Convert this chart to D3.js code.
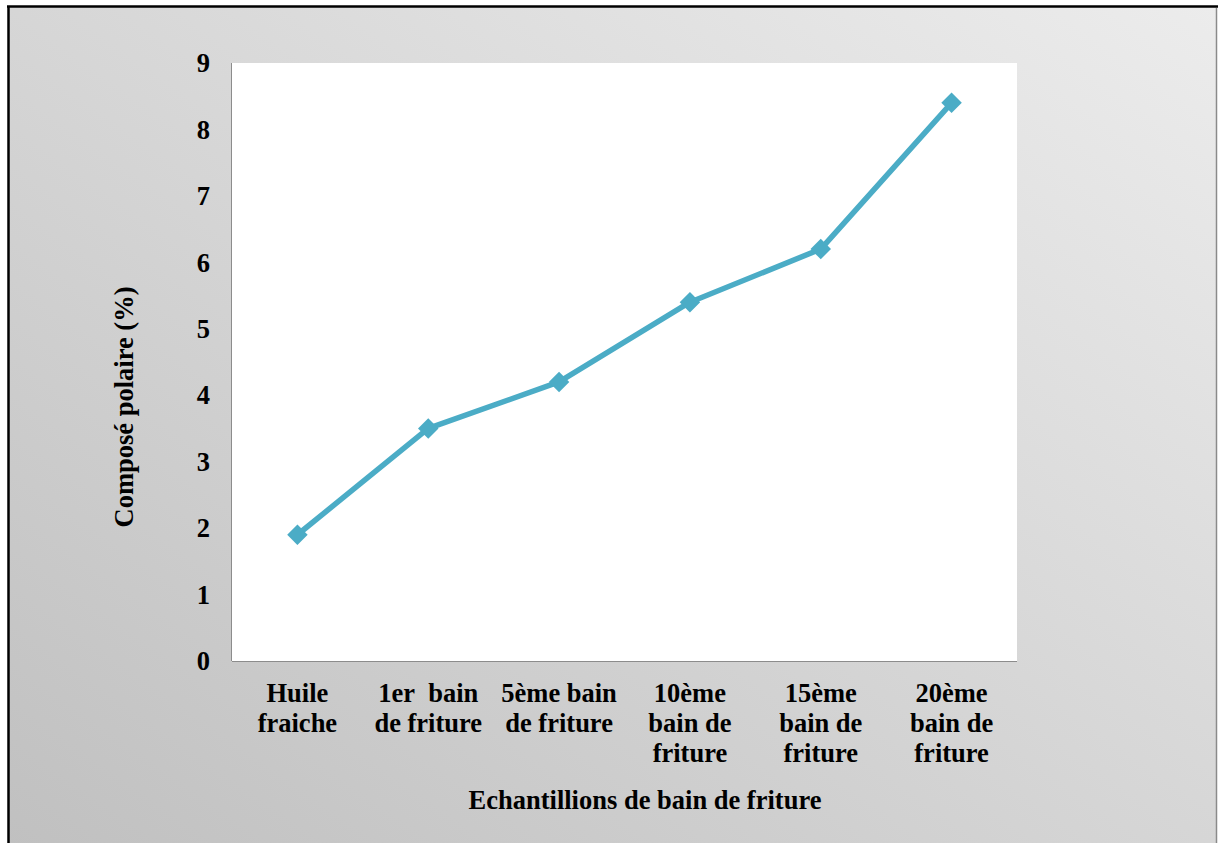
<!DOCTYPE html>
<html>
<head>
<meta charset="utf-8">
<script src="https://cdn.jsdelivr.net/npm/d3@7"></script>
<style>
  html, body { margin: 0; padding: 0; background: #ffffff; }
  svg { display: block; }
  text { font-family: "Liberation Serif", "Times New Roman", serif; font-weight: bold; fill: #000; }
</style>
</head>
<body>
<svg id="chart" width="1218" height="843"></svg>
<script>
// Polar compounds in frying oil by number of frying baths
const categories = [
  ["Huile", "fraiche"],
  ["1er\u00a0 bain", "de friture"],
  ["5ème bain", "de friture"],
  ["10ème", "bain de", "friture"],
  ["15ème", "bain de", "friture"],
  ["20ème", "bain de", "friture"]
];
const polarValues = [1.9, 3.5, 4.2, 5.4, 6.2, 8.4];
const yTicks = [0, 1, 2, 3, 4, 5, 6, 7, 8, 9];

const svg = d3.select("#chart");
const W = 1218, H = 843;
const plot = { left: 232, right: 1017, top: 63, bottom: 661 };
const fs = 26.5;

// Gradient background for the chart area
const defs = svg.append("defs");
const grad = defs.append("linearGradient")
  .attr("id", "bg").attr("x1", "0%").attr("y1", "100%").attr("x2", "100%").attr("y2", "0%");
grad.append("stop").attr("offset", "0%").attr("stop-color", "#c0c0c0");
grad.append("stop").attr("offset", "100%").attr("stop-color", "#ececec");

svg.append("rect").attr("x", 8).attr("y", 6).attr("width", 1209).attr("height", H)
  .attr("fill", "url(#bg)");
// frame lines
svg.append("line").attr("x1", 7).attr("x2", 1218).attr("y1", 6.5).attr("y2", 6.5)
  .attr("stroke", "#000").attr("stroke-width", 2.5);
svg.append("line").attr("x1", 8.5).attr("x2", 8.5).attr("y1", 6).attr("y2", H)
  .attr("stroke", "#000").attr("stroke-width", 2.5);
svg.append("line").attr("x1", 1216.5).attr("x2", 1216.5).attr("y1", 8).attr("y2", H)
  .attr("stroke", "#8a8a8a").attr("stroke-width", 1.5);

// Plot area
svg.append("rect")
  .attr("x", plot.left).attr("y", plot.top)
  .attr("width", plot.right - plot.left).attr("height", plot.bottom - plot.top)
  .attr("fill", "#ffffff");

const x = d3.scaleBand().domain(d3.range(categories.length))
  .range([plot.left, plot.right]);
const y = d3.scaleLinear().domain([0, 9]).range([plot.bottom, plot.top]);

// Axis lines
svg.append("line").attr("x1", plot.left - 0.5).attr("x2", plot.left - 0.5)
  .attr("y1", plot.top).attr("y2", plot.bottom)
  .attr("stroke", "#8c8c8c").attr("stroke-width", 1);
svg.append("line").attr("x1", plot.left).attr("x2", plot.right)
  .attr("y1", plot.bottom + 0.5).attr("y2", plot.bottom + 0.5)
  .attr("stroke", "#8c8c8c").attr("stroke-width", 1.2);

// Y tick labels
svg.append("g").selectAll("text").data(yTicks).join("text")
  .attr("x", 210).attr("y", d => y(d))
  .attr("dy", "0.35em")
  .attr("text-anchor", "end")
  .attr("font-size", fs)
  .text(d => d);

// X category labels
const xl = svg.append("g").selectAll("text").data(categories).join("text")
  .attr("text-anchor", "middle")
  .attr("font-size", fs)
  .attr("x", (d, i) => x(i) + x.bandwidth() / 2)
  .attr("y", 702);
xl.selectAll("tspan").data(d => d).join("tspan")
  .attr("x", function () { return this.parentNode.getAttribute("x"); })
  .attr("dy", (d, i) => i === 0 ? 0 : 30)
  .style("white-space", "pre")
  .text(d => d);

// Axis titles
svg.append("text")
  .attr("x", 645).attr("y", 809)
  .attr("text-anchor", "middle").attr("font-size", fs)
  .text("Echantillions de bain de friture");
svg.append("text")
  .attr("transform", "translate(133,407) rotate(-90)")
  .attr("text-anchor", "middle").attr("font-size", fs)
  .text("Composé polaire (%)");

// Series line and diamond markers
const color = "#4bacc6";
const line = d3.line()
  .x((d, i) => x(i) + x.bandwidth() / 2)
  .y(d => y(d));
svg.append("path").datum(polarValues)
  .attr("d", line)
  .attr("fill", "none").attr("stroke", color)
  .attr("stroke-width", 5.5).attr("stroke-linejoin", "round");
svg.append("g").selectAll("path").data(polarValues).join("path")
  .attr("d", d3.symbol(d3.symbolSquare, 210))
  .attr("transform", (d, i) => `translate(${x(i) + x.bandwidth() / 2},${y(d)}) rotate(45)`)
  .attr("fill", color);
</script>
</body>
</html>
